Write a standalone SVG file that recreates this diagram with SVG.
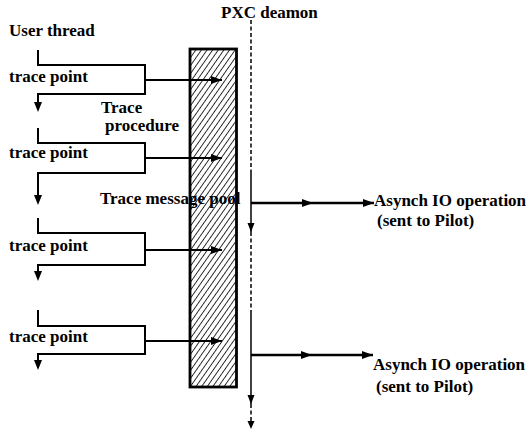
<svg xmlns="http://www.w3.org/2000/svg" width="529" height="431" viewBox="0 0 529 431">
  <style>
    text { font-family: "Liberation Serif", "Times New Roman", serif; font-weight: bold; font-size: 17px; fill: #000; }
    .flow { fill: none; stroke: #000; stroke-width: 2; }
    .call { fill: none; stroke: #000; stroke-width: 2; marker-end: url(#head); }
    .io { fill: none; stroke: #000; stroke-width: 2.5; }
    .life { fill: none; stroke: #000; stroke-width: 1.5; }
    .dash { stroke-dasharray: 4 2.5; }
  </style>
  <defs>
    <marker id="head" markerUnits="userSpaceOnUse" markerWidth="12" markerHeight="10" refX="11" refY="4" orient="auto">
      <path d="M0,0 L11,4 L0,8 Z" fill="#000"/>
    </marker>
    <marker id="headSmall" markerUnits="userSpaceOnUse" markerWidth="10" markerHeight="8" refX="9" refY="3.5" orient="auto">
      <path d="M0,0 L9,3.5 L0,7 Z" fill="#000"/>
    </marker>
    <pattern id="hatch" patternUnits="userSpaceOnUse" width="4.6" height="10" patternTransform="rotate(35)">
      <line x1="0" y1="0" x2="0" y2="10" stroke="#000" stroke-width="1.6"/>
    </pattern>
  </defs>

  <!-- column headings -->
  <g id="user-thread-label"><text x="9" y="36">User thread</text></g>
  <g id="pxc-deamon-label"><text x="221" y="18">PXC deamon</text></g>

  <!-- shared message pool -->
  <g id="message-pool">
    <rect x="190" y="49" width="46.5" height="338" fill="url(#hatch)" stroke="#000" stroke-width="2.8"/>
  </g>
  <g id="trace-procedure-label">
    <text x="101" y="113">Trace</text>
    <text x="105" y="131">procedure</text>
  </g>
  <g id="message-pool-label"><text x="100" y="204">Trace message pool</text></g>

  <!-- trace points along the user thread -->
  <g id="trace-point-1">
    <path class="flow" d="M38,50 V65 H145 V94 H38 V104"/>
    <path d="M34,102 L42,102 L38,112 Z" fill="#000"/>
    <text x="9" y="82">trace point</text>
  </g>
  <g id="trace-point-2">
    <path class="flow" d="M38,128 V143 H145 V173 H38 V196"/>
    <path d="M34,195 L42,195 L38,205 Z" fill="#000"/>
    <text x="9" y="158">trace point</text>
  </g>
  <g id="trace-point-3">
    <path class="flow" d="M38,218 V233 H145 V265 H38 V272"/>
    <path d="M34,271 L42,271 L38,281 Z" fill="#000"/>
    <text x="9" y="251">trace point</text>
  </g>
  <g id="trace-point-4">
    <path class="flow" d="M38,310 V326 H145 V354 H38 V361"/>
    <path d="M34,360 L42,360 L38,370 Z" fill="#000"/>
    <text x="9" y="342">trace point</text>
  </g>

  <!-- asynchronous IO outputs -->
  <g id="asynch-io-1">
    <text x="374" y="206">Asynch IO operation</text>
    <text x="377" y="226">(sent to Pilot)</text>
  </g>
  <g id="asynch-io-2">
    <text x="373" y="370">Asynch IO operation</text>
    <text x="376" y="392">(sent to Pilot)</text>
  </g>

  <!-- connectors -->
  <g id="connectors">
    <!-- trace point to pool -->
    <line class="call" x1="145" y1="80" x2="222" y2="80"/>
    <line class="call" x1="145" y1="158" x2="222" y2="158"/>
    <line class="call" x1="145" y1="250" x2="222" y2="250"/>
    <line class="call" x1="145" y1="341" x2="222" y2="341"/>

    <!-- daemon lifeline -->
    <line class="life dash" x1="251" y1="20" x2="251" y2="173"/>
    <line class="life" x1="251" y1="173" x2="251" y2="232" marker-end="url(#headSmall)"/>
    <line class="life dash" x1="251" y1="232" x2="251" y2="311"/>
    <line class="life" x1="251" y1="311" x2="251" y2="404" marker-end="url(#headSmall)"/>
    <path class="life dash" d="M251,404 V421"/>
    <path d="M247.5,421 L254.5,421 L251,429 Z" fill="#000"/>

    <!-- daemon to IO -->
    <line class="io" x1="251" y1="203" x2="313" y2="203" marker-end="url(#head)"/>
    <line class="io" x1="313" y1="203" x2="374" y2="203" marker-end="url(#head)"/>
    <line class="io" x1="251" y1="355" x2="312" y2="355" marker-end="url(#head)"/>
    <line class="io" x1="312" y1="355" x2="373" y2="355" marker-end="url(#head)"/>
  </g>
</svg>
